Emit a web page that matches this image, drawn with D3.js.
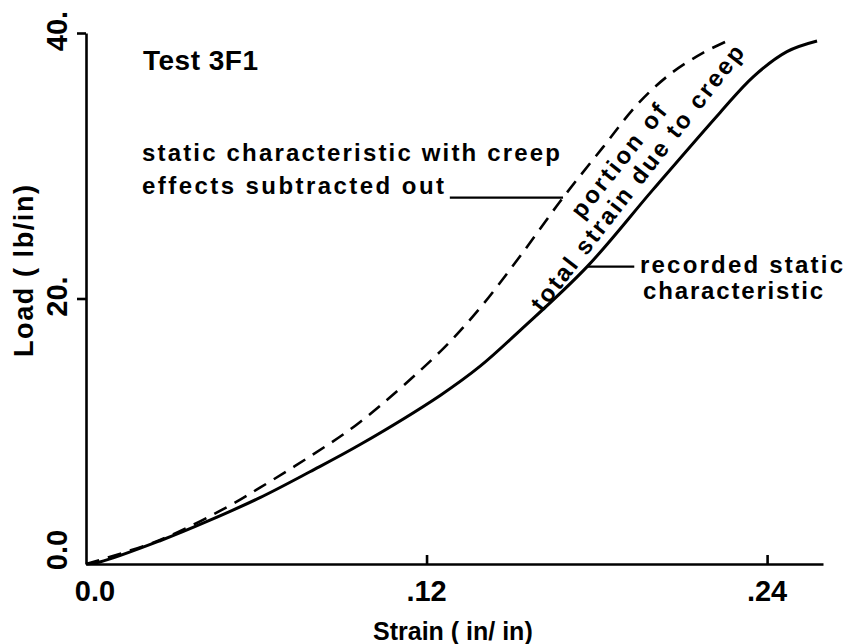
<!DOCTYPE html>
<meta charset="utf-8">
<style>
html, body {
  margin: 0;
  background: #fff;
}
svg text {
  font-family: "Liberation Sans", Arial, sans-serif;
  font-weight: bold;
  fill: #000;
}
</style>
<svg width="846" height="644"></svg>
<script src="https://cdn.jsdelivr.net/npm/d3@7"></script>
<script>
// recorded static characteristic (solid)
const recStrain = [0, 0.0049, 0.0261, 0.0437, 0.0613, 0.0789, 0.0966, 0.1248, 0.1389, 0.1530, 0.1766, 0.1998, 0.2234, 0.2351, 0.2470, 0.2576];
const recLoad   = [0, 0.15, 1.75, 3.3, 5.0, 6.95, 9.0, 12.7, 14.9, 17.6, 22.4, 28.2, 34.0, 36.7, 38.6, 39.4];

// creep effects subtracted out (dashed)
const netStrain = [0, 0.0261, 0.0497, 0.0613, 0.0789, 0.0966, 0.1248, 0.1389, 0.1530, 0.1681, 0.1822, 0.1942, 0.2058, 0.2174, 0.2270];
const netLoad   = [0, 1.81, 4.29, 5.75, 8.1, 10.7, 16.0, 19.3, 23.2, 27.6, 31.4, 34.6, 36.9, 38.5, 39.5];

const xTicks = [0, 0.12, 0.24];
const xTickLabels = ['0.0', '.12', '.24'];
const yTicks = [0, 20, 40];
const yTickLabels = ['0.0', '20.', '40.'];

const svg = d3.select('svg');

const x = d3.scaleLinear().domain([0, 0.2597]).range([86, 823]);
const y = d3.scaleLinear().domain([0, 40]).range([564, 33]);

// axes
svg.append('g')
  .attr('transform', `translate(0,${y(0)})`)
  .call(d3.axisBottom(x).tickValues([0.12, 0.24]).tickSizeInner(-9).tickSizeOuter(0).tickFormat(''))
  .call(g => g.selectAll('path, line').attr('stroke', '#000').attr('stroke-width', 2.6));

svg.append('g')
  .attr('transform', `translate(${x(0)},0)`)
  .call(d3.axisLeft(y).tickValues([20, 40]).tickSizeInner(9).tickSizeOuter(0).tickFormat(''))
  .call(g => g.selectAll('path, line').attr('stroke', '#000').attr('stroke-width', 2.6));

// tick labels
svg.append('g').selectAll('text')
  .data(xTicks)
  .join('text')
  .attr('x', (d, i) => x(d) + (i === 0 ? 9 : 0))
  .attr('y', 601)
  .attr('text-anchor', 'middle')
  .attr('font-size', 29)
  .text((d, i) => xTickLabels[i]);

svg.append('g').selectAll('text')
  .data(yTicks)
  .join('text')
  .attr('transform', (d, i) => `translate(67,${y(d) - (i === 0 ? 14 : 2)}) rotate(-90)`)
  .attr('text-anchor', 'middle')
  .attr('font-size', 29)
  .text((d, i) => yTickLabels[i]);

// axis titles
svg.append('text')
  .attr('x', 373)
  .attr('y', 640)
  .attr('font-size', 25)
  .text('Strain ( in/ in)');

svg.append('text')
  .attr('transform', 'translate(33,271) rotate(-90)')
  .attr('text-anchor', 'middle')
  .attr('font-size', 27)
  .attr('textLength', 172)
  .text('Load ( lb/in)');

// curves
const line = d3.line()
  .x(d => x(d[0]))
  .y(d => y(d[1]))
  .curve(d3.curveCatmullRom.alpha(0.5));

svg.append('path')
  .datum(recStrain.map((s, i) => [s, recLoad[i]]))
  .attr('fill', 'none')
  .attr('stroke', '#000')
  .attr('stroke-width', 3)
  .attr('d', line);

svg.append('path')
  .datum(netStrain.map((s, i) => [s, netLoad[i]]))
  .attr('fill', 'none')
  .attr('stroke', '#000')
  .attr('stroke-width', 2.6)
  .attr('stroke-dasharray', '14,9')
  .attr('d', line);

// annotations
svg.append('text')
  .attr('x', 143)
  .attr('y', 70)
  .attr('font-size', 28)
  .attr('textLength', 115)
  .text('Test 3F1');

svg.append('text')
  .attr('x', 142)
  .attr('y', 161)
  .attr('font-size', 24)
  .attr('textLength', 418)
  .text('static characteristic with creep');

svg.append('text')
  .attr('x', 142)
  .attr('y', 194)
  .attr('font-size', 24)
  .attr('textLength', 302)
  .text('effects subtracted out');

svg.append('text')
  .attr('x', 640)
  .attr('y', 273)
  .attr('font-size', 24)
  .attr('textLength', 203)
  .text('recorded  static');

svg.append('text')
  .attr('x', 643)
  .attr('y', 299)
  .attr('font-size', 24)
  .attr('textLength', 180)
  .text('characteristic');

svg.append('text')
  .attr('transform', 'translate(582,220) rotate(-51.5)')
  .attr('font-size', 24)
  .attr('textLength', 138)
  .text('portion of');

svg.append('text')
  .attr('transform', 'translate(542,313) rotate(-52)')
  .attr('font-size', 24)
  .attr('textLength', 330)
  .text('total strain due to creep');

// leader lines, anchored on the curves
const leaders = [
  [[0.1282, 27.6], [0.1681, 27.6]],
  [[0.1766, 22.4], [0.1932, 22.4]]
];
svg.append('g').selectAll('line')
  .data(leaders)
  .join('line')
  .attr('x1', d => x(d[0][0]))
  .attr('y1', d => y(d[0][1]))
  .attr('x2', d => x(d[1][0]))
  .attr('y2', d => y(d[1][1]))
  .attr('stroke', '#000')
  .attr('stroke-width', 2.4);
</script>
